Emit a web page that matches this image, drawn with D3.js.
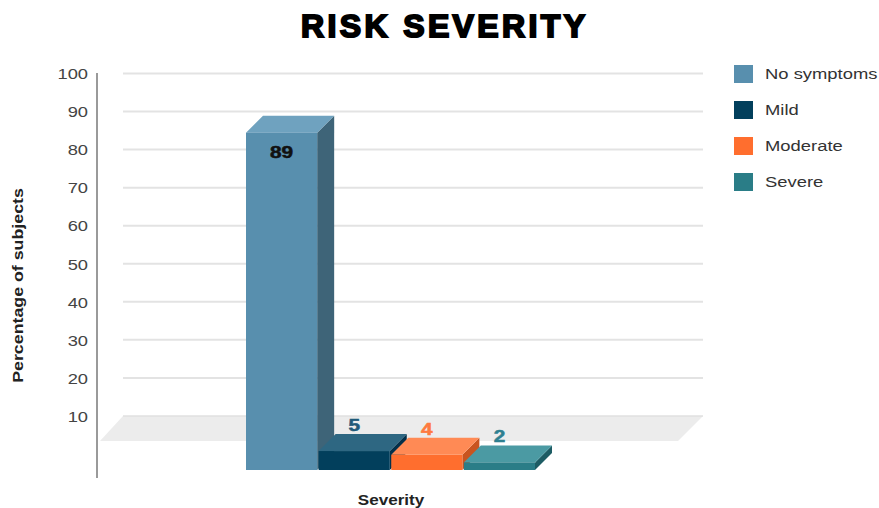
<!DOCTYPE html>
<html><head><meta charset="utf-8">
<script src="https://cdn.jsdelivr.net/npm/d3@7"></script>
<style>html,body{margin:0;padding:0;background:#fff}svg{display:block}</style>
</head><body>
<script>
const categories = ["No symptoms", "Mild", "Moderate", "Severe"];
const values = [89, 5, 4, 2];
const yTicks = [10, 20, 30, 40, 50, 60, 70, 80, 90, 100];
const frontColors = ["#588fae", "#023f5c", "#ff6e2e", "#2a7d87"];
const topColors = ["#6fa2bf", "#2e6782", "#ff8a55", "#4b9aa3"];
const sideColors = ["#3e6478", "#03304a", "#c9541f", "#1d5c64"];
const labelColors = ["#111111", "#1f5a7a", "#ff7a40", "#2e8090"];

const W = 879, H = 508;
const svg = d3.select("body").append("svg").attr("width", W).attr("height", H);
const FONT = "'Liberation Sans', Arial, sans-serif";
const SX = 1.22;

// axis scale (back wall)
const yAxisScale = d3.scaleLinear().domain([0, 100]).range([454, 73.5]);
// bar scale (front faces)
const baseY = 470;
const yBar = d3.scaleLinear().domain([0, 100]).range([baseY, baseY - 379]);
const x = d3.scaleBand().domain(categories).range([246, 535]).paddingInner(0.02);
const dx = 17, dy = 17;

// title
svg.append("text").attr("x", 301).attr("y", 37)
  .attr("textLength", 284).attr("lengthAdjust", "spacing")
  .style("font-family", FONT).style("font-weight", "bold").style("font-size", "32px")
  .attr("fill", "#000").attr("stroke", "#000").attr("stroke-width", 2)
  .text("RISK SEVERITY");

// gridlines
svg.append("g").selectAll("line").data(yTicks.filter(v => v > 10)).join("line")
  .attr("x1", 123).attr("x2", 703)
  .attr("y1", d => yAxisScale(d)).attr("y2", d => yAxisScale(d))
  .attr("stroke", "#e3e3e3").attr("stroke-width", 2);

// floor
const fTop = yAxisScale(10);
svg.append("path")
  .attr("d", `M123,${fTop}L703,${fTop}L678,${fTop + 25}L100,${fTop + 25}Z`)
  .attr("fill", "#ececec");
svg.append("line").attr("x1", 123).attr("x2", 703).attr("y1", fTop).attr("y2", fTop)
  .attr("stroke", "#e0e0e0").attr("stroke-width", 1.5);

// y axis
const yAxis = d3.axisLeft(yAxisScale).tickValues(yTicks).tickSize(0).tickPadding(0);
const ga = svg.append("g").attr("transform", "translate(88,0)").call(yAxis);
ga.select(".domain").remove();
ga.selectAll("text")
  .style("font-family", FONT).style("font-size", "15px").attr("fill", "#444")
  .attr("dy", "0.35em").attr("x", 0)
  .attr("transform", `scale(${SX},1)`);
svg.append("line").attr("x1", 97).attr("x2", 97).attr("y1", 73).attr("y2", 478)
  .attr("stroke", "#9a9a9a").attr("stroke-width", 2);

// bars
const bars = svg.append("g");
categories.forEach((c, i) => {
  const x0 = x(c), w = x.bandwidth(), yt = yBar(values[i]);
  const g = bars.append("g");
  g.append("path").attr("d", `M${x0 + w},${baseY}L${x0 + w},${yt}L${x0 + w + dx},${yt - dy}L${x0 + w + dx},${baseY - dy}Z`)
    .attr("fill", sideColors[i]);
  g.append("path").attr("d", `M${x0},${yt}L${x0 + dx},${yt - dy}L${x0 + w + dx},${yt - dy}L${x0 + w},${yt}Z`)
    .attr("fill", topColors[i]);
  g.append("rect").attr("x", x0).attr("y", yt).attr("width", w).attr("height", baseY - yt)
    .attr("fill", frontColors[i]);
});

// value labels
categories.forEach((c, i) => {
  const cx = x(c) + x.bandwidth() / 2, yt = yBar(values[i]);
  const inside = i === 0;
  const ty = inside ? yt + 25 : yt - dy - 3;
  svg.append("text")
    .attr("transform", `translate(${cx},${ty}) scale(1.3,1)`)
    .attr("text-anchor", "middle")
    .style("font-family", FONT).style("font-weight", "bold").style("font-size", "16px")
    .attr("fill", labelColors[i]).attr("stroke", labelColors[i]).attr("stroke-width", 0.5)
    .text(values[i]);
});

// axis titles
svg.append("text")
  .attr("transform", `translate(391,505) scale(${SX},1)`)
  .attr("text-anchor", "middle")
  .style("font-family", FONT).style("font-weight", "bold").style("font-size", "14px")
  .attr("fill", "#222").text("Severity");
svg.append("text")
  .attr("transform", `translate(23,285.5) rotate(-90) scale(1.27,1)`)
  .attr("text-anchor", "middle")
  .style("font-family", FONT).style("font-weight", "bold").style("font-size", "14px")
  .attr("fill", "#222").text("Percentage of subjects");

// legend
const lg = svg.append("g");
categories.forEach((c, i) => {
  const cy = 74 + i * 36;
  lg.append("rect").attr("x", 734).attr("y", cy - 9).attr("width", 19).attr("height", 18)
    .attr("fill", frontColors[i]);
  lg.append("text")
    .attr("transform", `translate(765,${cy + 5}) scale(1.27,1)`)
    .style("font-family", FONT).style("font-size", "14.5px").attr("fill", "#333")
    .text(c);
});
</script>
</body></html>
